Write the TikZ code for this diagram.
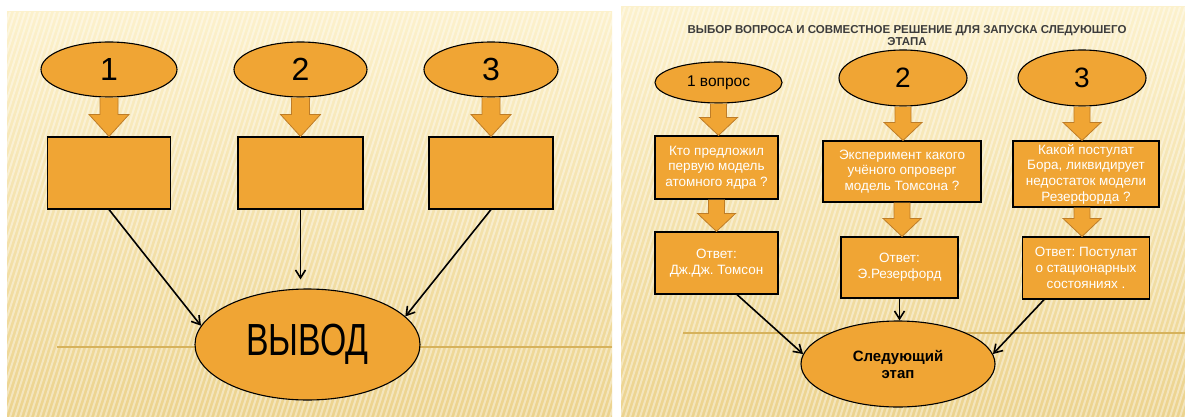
\documentclass[tikz,border=0pt]{standalone}
\usepackage{fontspec}
\setmainfont{Liberation Sans}
\newfontfamily\narrowsans[FakeStretch=0.75]{Liberation Sans}
\usepackage{tikz}
\usetikzlibrary{shapes.geometric, arrows.meta, calc}
\definecolor{slideorange}{RGB}{240,165,52}
\definecolor{arrowedge}{RGB}{190,125,40}
\definecolor{creamtop}{RGB}{252,241,204}
\definecolor{creambottom}{RGB}{236,211,142}
\definecolor{goldline}{RGB}{214,178,92}
\definecolor{titlegray}{RGB}{60,60,60}
\frenchspacing
\tikzstyle{orange_oval}=[ellipse, draw=black, line width=1.1pt, fill=slideorange, inner sep=0pt]
\tikzstyle{orange_box}=[rectangle, draw=black, line width=1.1pt, fill=slideorange, inner sep=0pt, text=white, align=center, font=\fontsize{13.5}{15.7}\selectfont]
\tikzstyle{thin_arrow}=[draw=black, line width=1.6pt, -{Straight Barb[length=8pt, width=10pt]}]
% #1 from, #2 to, #3 half shaft, #4 half head, #5 head length
\newcommand{\blockarrow}[5]{%
    \fill[slideorange] let \p1=(#1), \p2=(#2) in
        (\x1-#3,\y1) -- (\x1-#3,\y2+#5) -- (\x1-#4,\y2+#5) -- (\x1,\y2)
        -- (\x1+#4,\y2+#5) -- (\x1+#3,\y2+#5) -- (\x1+#3,\y1) -- cycle;
    \draw[arrowedge, line width=0.8pt, line join=miter] let \p1=(#1), \p2=(#2) in
        (\x1-#3,\y1) -- (\x1-#3,\y2+#5) -- (\x1-#4,\y2+#5) -- (\x1,\y2)
        -- (\x1+#4,\y2+#5) -- (\x1+#3,\y2+#5) -- (\x1+#3,\y1);
}

\begin{document}
\frenchspacing
\begin{tikzpicture}[x=1pt, y=-1pt]
    \useasboundingbox (0,0) rectangle (1185,417);
    \fill[white] (0,0) rectangle (1185,417);

    % slide backgrounds
    \begin{scope}
        \clip (7,12) rectangle (612,417);
        \shade[top color=creamtop, bottom color=creambottom] (7,12) rectangle (612,417);
        \foreach \s in {-30,...,125}
            \draw[white, opacity=0.4, line width=2pt] (5*\s,417) -- (5*\s+130,12);
    \end{scope}
    \begin{scope}
        \clip (621,7) rectangle (1185,417);
        \shade[top color=creamtop, bottom color=creambottom] (621,7) rectangle (1185,417);
        \foreach \s in {95,...,240}
            \draw[white, opacity=0.4, line width=2pt] (5*\s,417) -- (5*\s+130,7);
    \end{scope}
    \draw[goldline, line width=1.5pt] (57,347) -- (612,347);
    \draw[goldline, line width=1.5pt] (683,333) -- (1185,333);

    % left slide
    \node[orange_oval, minimum width=136pt, minimum height=55pt, font=\fontsize{32}{32}\selectfont] at (109, 69.5) (n1) {1};
    \node[orange_oval, minimum width=133pt, minimum height=55pt, font=\fontsize{32}{32}\selectfont] at (300.5, 69.5) (n2) {2};
    \node[orange_oval, minimum width=134pt, minimum height=55pt, font=\fontsize{32}{32}\selectfont] at (491, 69.5) (n3) {3};
    \node[orange_box, minimum width=123pt, minimum height=72pt] at (109, 173) (r1) {};
    \node[orange_box, minimum width=125pt, minimum height=72pt] at (300.5, 173) (r2) {};
    \node[orange_box, minimum width=124pt, minimum height=72pt] at (491, 173) (r3) {};
    \node[orange_oval, minimum width=225pt, minimum height=111pt, font=\narrowsans\fontsize{45}{45}\selectfont] at (307.5, 344.5) (vyvod) {ВЫВОД};

    \blockarrow{n1.south}{r1.north}{9pt}{20pt}{22pt}
    \blockarrow{n2.south}{r2.north}{9pt}{20pt}{22pt}
    \blockarrow{n3.south}{r3.north}{9pt}{20pt}{22pt}
    \draw[thin_arrow] (r1.south) -- (vyvod.170);
    \draw[thin_arrow, shorten >=9pt] (r2.south) -- (r2.south |- vyvod.north);
    \draw[thin_arrow] (r3.south) -- (vyvod.16);

    % right slide
    \node[font=\bfseries\fontsize{11.5}{11.5}\selectfont, text=titlegray, align=center] at (907, 35.5) (title) {ВЫБОР ВОПРОСА И СОВМЕСТНОЕ РЕШЕНИЕ ДЛЯ ЗАПУСКА СЛЕДУЮШЕГО\\ЭТАПА};
    \node[orange_oval, minimum width=127pt, minimum height=41pt, font=\fontsize{15.5}{15.5}\selectfont] at (718.5, 82.5) (q1) {1 вопрос};
    \node[orange_oval, minimum width=128pt, minimum height=56pt, font=\fontsize{28}{28}\selectfont] at (903, 78) (q2) {2};
    \node[orange_oval, minimum width=128pt, minimum height=56pt, font=\fontsize{28}{28}\selectfont] at (1082, 78) (q3) {3};
    \node[orange_box, minimum width=123pt, minimum height=63pt] at (716.5, 167.5) (b1) {Кто предложил\\первую модель\\атомного ядра ?};
    \node[orange_box, minimum width=158pt, minimum height=61pt] at (902, 171.5) (b2) {Эксперимент какого\\учёного опроверг\\модель Томсона ?};
    \node[orange_box, minimum width=146pt, minimum height=66pt] at (1086, 174) (b3) {Какой постулат\\Бора, ликвидирует\\недостаток модели\\Резерфорда ?};
    \node[orange_box, minimum width=123pt, minimum height=62pt] at (716.5, 263) (a1) {Ответ:\\Дж.Дж. Томсон};
    \node[orange_box, minimum width=117pt, minimum height=61pt] at (899.5, 267.5) (a2) {Ответ:\\Э.Резерфорд};
    \node[orange_box, minimum width=127.5pt, minimum height=62pt] at (1086, 268) (a3) {Ответ: Постулат\\о стационарных\\состояниях .};
    \node[orange_oval, minimum width=194pt, minimum height=86pt, align=center, font=\bfseries\fontsize{15}{17}\selectfont] at (898, 364) (next) {Следующий\\этап};

    \blockarrow{q1.south}{q1.south |- b1.north}{8pt}{19pt}{18pt}
    \blockarrow{b1.south}{a1.north}{8pt}{19pt}{18pt}
    \blockarrow{q2.south}{q2.south |- b2.north}{8pt}{19pt}{18pt}
    \blockarrow{b2.south}{b2.south |- a2.north}{8pt}{19pt}{18pt}
    \blockarrow{q3.south}{q3.south |- b3.north}{8pt}{19pt}{18pt}
    \blockarrow{q3.south |- b3.south}{q3.south |- a3.north}{8pt}{19pt}{18pt}
    \draw[thin_arrow] (a1.-57) -- (next.174);
    \draw[thin_arrow] (a2.south) -- (a2.south |- next.north);
    \draw[thin_arrow] (a3.217) -- (next.6);
\end{tikzpicture}
\end{document}
